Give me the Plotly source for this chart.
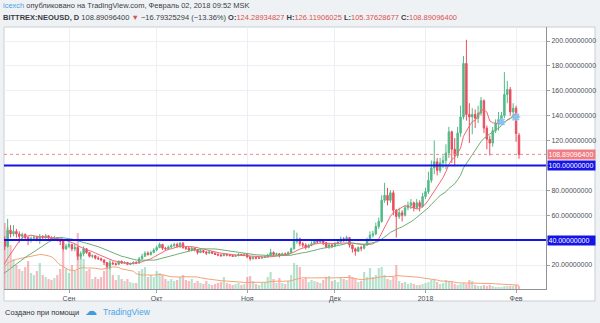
import pandas as pd
import plotly.graph_objects as go

# ---- Daily NEO/USD (Bittrex), 2017-07-20 .. 2018-02-02 ----
close_jul = [6.6, 6.9, 7.3, 7.1, 7.4, 7.5, 7.2, 7.6, 7.9, 7.8, 8.0, 8.7]
high_jul = [6.9, 7.2, 7.6, 7.5, 7.6, 7.8, 7.6, 7.8, 8.2, 8.1, 8.3, 9.0]
low_jul = [6.3, 6.5, 6.8, 6.9, 7.0, 7.2, 7.0, 7.1, 7.5, 7.5, 7.7, 7.9]
vol_jul = [5, 5, 4, 6, 5, 6, 5, 6, 7, 6, 7, 9]

close_aug = [9.2, 10.1, 11.8, 12.9, 14.5, 15.8, 20.9, 29.5, 40.0, 35.0, 48.0, 45.0, 47.0, 45.0, 43.0, 44.5,
             42.0, 40.0, 41.5, 42.0, 41.0, 43.0, 42.0, 43.5, 42.0, 41.0, 42.0, 40.5, 39.0, 33.0, 35.0]
high_aug = [9.6, 10.5, 12.3, 13.5, 15.2, 16.5, 21.8, 31.0, 43.0, 43.0, 57.0, 52.0, 52.0, 49.0, 47.0, 46.0,
            45.5, 43.0, 43.0, 44.0, 43.5, 45.0, 44.0, 45.0, 44.0, 43.0, 43.5, 42.5, 41.0, 40.0, 37.0]
low_aug = [8.6, 9.0, 10.0, 11.6, 12.7, 14.3, 15.6, 20.5, 28.5, 32.0, 34.0, 42.0, 43.0, 42.0, 38.0, 40.0,
           40.0, 36.0, 38.0, 39.5, 39.0, 37.0, 40.0, 41.0, 40.5, 39.5, 40.0, 39.0, 36.0, 31.0, 32.0]
vol_aug = [10, 14, 18, 20, 24, 30, 55, 80, 75, 66, 62, 44, 30, 24, 20, 18,
           22, 28, 16, 14, 18, 26, 14, 12, 10, 9, 11, 14, 20, 38, 20]

close_sep = [36.5, 33.0, 34.0, 27.0, 29.0, 33.0, 30.0, 27.0, 27.5, 25.5, 25.0, 24.0, 22.0, 19.0, 21.5,
             21.0, 20.5, 23.0, 21.5, 22.0, 20.5, 21.0, 22.0, 21.5, 25.0, 27.0, 29.5, 28.5, 30.0, 32.0]
high_sep = [39.0, 37.0, 37.0, 35.0, 31.0, 35.0, 33.5, 30.5, 28.5, 28.0, 27.0, 26.0, 24.5, 22.5, 23.0,
            23.0, 22.0, 23.5, 23.5, 23.0, 22.5, 22.0, 23.0, 23.0, 26.5, 29.0, 31.0, 31.0, 31.5, 33.5]
low_sep = [33.5, 31.0, 31.0, 24.0, 24.5, 27.0, 29.0, 26.0, 25.5, 24.5, 24.0, 23.0, 20.0, 17.5, 16.5,
           20.0, 19.5, 20.5, 21.0, 21.0, 20.0, 20.0, 20.5, 21.0, 21.5, 24.5, 26.5, 27.5, 27.5, 29.5]
vol_sep = [16, 24, 18, 56, 36, 30, 18, 20, 10, 12, 10, 12, 18, 26, 30,
           14, 9, 14, 10, 8, 10, 7, 6, 6, 18, 20, 22, 12, 14, 12]

close_oct = [34.0, 36.5, 33.5, 33.0, 34.5, 35.5, 36.5, 35.0, 37.5, 34.0, 33.5, 32.0, 33.5, 32.0, 30.0, 31.5,
             30.5, 29.5, 30.5, 29.5, 28.5, 28.0, 27.5, 28.5, 28.0, 27.5, 27.0, 27.5, 28.5, 28.0, 28.5]
high_oct = [35.5, 38.0, 37.0, 34.5, 35.5, 37.0, 38.0, 38.0, 38.5, 38.5, 35.0, 34.5, 35.0, 34.0, 32.5, 32.5,
            32.0, 31.0, 31.5, 31.0, 30.0, 29.5, 29.0, 29.5, 29.0, 28.5, 28.5, 28.5, 29.5, 29.0, 29.5]
low_oct = [31.0, 33.5, 32.0, 31.5, 32.0, 33.5, 34.5, 34.0, 33.5, 33.0, 32.0, 31.0, 31.0, 31.0, 28.5, 29.5,
           29.5, 28.0, 29.0, 29.0, 28.0, 27.0, 26.5, 27.0, 27.0, 27.0, 26.5, 26.5, 27.0, 27.5, 27.5]
vol_oct = [18, 16, 14, 10, 8, 10, 8, 9, 12, 14, 9, 8, 10, 6, 8, 6,
           5, 8, 5, 4, 5, 6, 7, 12, 6, 5, 4, 5, 6, 4, 5]

close_nov = [26.5, 25.0, 26.0, 25.5, 25.5, 26.0, 26.5, 28.0, 30.0, 28.5, 29.0, 28.0, 29.0, 28.5, 30.0,
             33.0, 39.0, 41.0, 37.0, 36.0, 34.0, 36.0, 37.0, 39.0, 38.5, 40.0, 38.0, 34.5, 36.0, 35.5]
high_nov = [29.0, 27.0, 27.0, 26.5, 26.5, 27.0, 27.5, 29.0, 33.0, 31.0, 30.0, 29.5, 30.0, 30.0, 31.0,
            34.0, 48.0, 46.0, 42.0, 38.5, 37.5, 37.0, 39.0, 40.5, 41.0, 41.0, 40.5, 38.5, 38.0, 37.5]
low_nov = [25.5, 23.5, 24.5, 24.5, 25.0, 25.0, 25.5, 26.0, 27.5, 27.0, 27.5, 26.0, 27.5, 27.5, 28.0,
           29.5, 32.5, 37.0, 35.0, 34.0, 32.5, 33.5, 35.0, 36.5, 37.0, 37.5, 36.0, 33.5, 33.0, 33.5]
vol_nov = [12, 13, 8, 5, 4, 6, 7, 12, 17, 10, 6, 11, 6, 5, 8,
           14, 26, 24, 22, 10, 11, 7, 9, 8, 7, 6, 9, 12, 13, 8]

close_dec = [37.0, 38.5, 41.0, 40.0, 42.0, 36.0, 33.0, 31.0, 34.0, 33.5, 36.0, 40.0, 44.0, 45.0, 51.0, 55.0,
             72.0, 76.0, 72.0, 78.0, 64.0, 59.0, 62.0, 60.0, 66.0, 68.0, 70.0, 66.0, 70.0, 67.0, 75.0]
high_dec = [38.5, 40.0, 43.0, 42.5, 43.5, 42.5, 36.5, 34.0, 35.0, 35.5, 37.0, 42.0, 47.0, 47.5, 54.0, 58.0,
            76.0, 86.0, 82.0, 80.0, 80.0, 65.0, 66.0, 64.0, 68.0, 71.0, 73.0, 71.0, 73.0, 72.0, 78.0]
low_dec = [34.5, 36.5, 38.0, 38.5, 39.0, 34.0, 30.0, 27.5, 30.5, 31.0, 32.5, 35.5, 39.0, 42.0, 44.0, 49.0,
           54.0, 70.0, 68.0, 70.0, 60.0, 42.0, 57.0, 55.0, 59.0, 64.0, 65.0, 63.0, 65.0, 63.0, 66.0]
vol_dec = [9, 7, 11, 10, 9, 14, 12, 10, 7, 8, 17, 12, 21, 12, 14, 21,
           22, 14, 10, 9, 12, 24, 8, 6, 7, 5, 6, 5, 4, 4, 5]

close_jan = [79, 88, 98, 103, 96, 102, 104, 110, 127, 113, 108, 126, 139, 182, 141, 139,
             141, 138, 142, 152, 130, 121, 118, 128, 134, 137, 140, 157, 161, 143, 146]
high_jan = [82, 95, 104, 120, 106, 106, 108, 117, 131, 128, 122, 131, 148, 188, 201, 150,
            146, 145, 148, 155, 153, 132, 124, 131, 137, 143, 143, 175, 168, 163, 150]
low_jan = [73, 77, 86, 93, 92, 94, 98, 97, 106, 102, 100, 106, 123, 137, 136, 118,
           125, 130, 134, 140, 126, 113, 108, 115, 126, 128, 134, 138, 150, 140, 136]
vol_jan = [6, 7, 9, 9, 7, 5, 6, 9, 8, 7, 5, 4, 5, 6, 5, 9,
           8, 4, 3, 3, 4, 3, 4, 3, 2, 2, 2, 3, 3, 3, 3]

close_feb = [125.68421694, 108.89096400]
high_feb = [148.0, 126.11906025]
low_feb = [119.0, 105.37628677]
vol_feb = [4, 3]

FIRST_OPEN = 6.4
LAST_OPEN = 124.28934827

close = close_jul + close_aug + close_sep + close_oct + close_nov + close_dec + close_jan + close_feb
high = high_jul + high_aug + high_sep + high_oct + high_nov + high_dec + high_jan + high_feb
low = low_jul + low_aug + low_sep + low_oct + low_nov + low_dec + low_jan + low_feb
volume = vol_jul + vol_aug + vol_sep + vol_oct + vol_nov + vol_dec + vol_jan + vol_feb
assert len(close) == len(high) == len(low) == len(volume)

# each session opens at the previous close; the last one has its own open
opens = [FIRST_OPEN] + close[:-1]
opens[-1] = LAST_OPEN

dates = pd.date_range("2017-07-20", periods=len(close), freq="D")
assert dates[-1] == pd.Timestamp("2018-02-02")

ma_fast = pd.Series(close).rolling(9).mean()
ma_slow = pd.Series(close).rolling(21).mean()
vol_ma = pd.Series(volume).rolling(20).mean()

# horizontal levels
levels = [100.0, 40.0]
level_color = "#1414e6"

# idea markers
marker_dates = ["2018-01-27", "2018-02-01"]
marker_prices = [135.0, 139.0]

month_ticks = ["2017-09-01", "2017-10-01", "2017-11-01", "2017-12-01", "2018-01-01", "2018-02-01"]
month_labels = ["Сен", "Окт", "Ноя", "Дек", "2018", "Фев"]
price_ticks = [20, 40, 60, 80, 100, 120, 140, 160, 180, 200]

UP = "#53b987"
DOWN = "#eb4d5c"
FONT = "Liberation Sans, Arial, sans-serif"
TEXT = "#4d5058"

vol_colors = ["rgba(83,185,135,0.42)" if c >= o else "rgba(235,77,92,0.40)"
              for o, c in zip(opens, close)]

fig = go.Figure()

fig.add_trace(go.Bar(x=dates, y=volume, yaxis="y", marker=dict(color=vol_colors, line=dict(width=0)),
                     showlegend=False, hoverinfo="skip"))
fig.add_trace(go.Scatter(x=dates, y=vol_ma, yaxis="y", mode="lines",
                         line=dict(color="#f2a474", width=1), showlegend=False, hoverinfo="skip"))

fig.add_trace(go.Candlestick(
    x=dates, open=opens, high=high, low=low, close=close, yaxis="y2",
    increasing=dict(line=dict(color=UP, width=1), fillcolor=UP),
    decreasing=dict(line=dict(color=DOWN, width=1), fillcolor=DOWN),
    whiskerwidth=0, showlegend=False))

fig.add_trace(go.Scatter(x=dates, y=ma_fast, yaxis="y2", mode="lines",
                         line=dict(color="#ee6a72", width=1), showlegend=False))
fig.add_trace(go.Scatter(x=dates, y=ma_slow, yaxis="y2", mode="lines",
                         line=dict(color="#6fae72", width=1), showlegend=False))
fig.add_trace(go.Scatter(x=marker_dates, y=marker_prices, yaxis="y2", mode="markers",
                         marker=dict(symbol="asterisk-open", size=7, color="#86c2f2",
                                     line=dict(color="#86c2f2", width=1.5)),
                         showlegend=False))

W, H = 600, 323
ML, MR, MT, MB = 4, 54, 27, 34
PW, PH = W - ML - MR, H - MT - MB


def px_x(px):
    return (px - ML) / PW


def px_y(py):
    return (H - MB - py) / PH


shapes = [
    dict(type="rect", xref="paper", yref="paper", x0=0, x1=px_x(595), y0=px_y(301), y1=1,
         fillcolor="white", line=dict(color="#c9ced4", width=1), layer="below"),
]
for lv in levels:
    shapes.append(dict(type="line", xref="paper", yref="y2", x0=0, x1=1, y0=lv, y1=lv,
                       line=dict(color=level_color, width=2)))
shapes.append(dict(type="line", xref="paper", yref="y2", x0=0, x1=1, y0=close[-1], y1=close[-1],
                   line=dict(color="#f08a8a", width=1, dash="dot")))

last = close[-1]
chg = close[-1] - close[-2]
pct = chg / close[-2] * 100
RED = "#d9534f"

line1 = ("<span style='color:#4f9fe0'>icexch</span> опубликовано на TradingView.com, "
         "Февраль 02, 2018 09:52 MSK")
line2 = (f"<b>BITTREX:NEOUSD, D</b> {last:.8f} <span style='color:{RED}'>▼</span> "
         f"−{abs(chg):.8f} (−{abs(pct):.2f}%) "
         f"<b>O:</b><span style='color:{RED}'>{opens[-1]:.8f}</span> "
         f"<b>H:</b><span style='color:{RED}'>{high[-1]:.8f}</span> "
         f"<b>L:</b><span style='color:{RED}'>{low[-1]:.8f}</span> "
         f"<b>C:</b><span style='color:{RED}'>{close[-1]:.8f}</span>")

annotations = [
    dict(text=line1, xref="paper", yref="paper", x=px_x(1), y=px_y(6), xanchor="left", yanchor="middle",
         showarrow=False, font=dict(family=FONT, size=7.5, color="#3a3d44")),
    dict(text=line2, xref="paper", yref="paper", x=px_x(1), y=px_y(17), xanchor="left", yanchor="middle",
         showarrow=False, font=dict(family=FONT, size=7.5, color="#3a3d44")),
    dict(text="Создано при помощи", xref="paper", yref="paper", x=px_x(3), y=px_y(312),
         xanchor="left", yanchor="middle", showarrow=False, font=dict(family=FONT, size=7.5, color="#2f3238")),
    dict(text="☁", xref="paper", yref="paper", x=px_x(91), y=px_y(311),
         xanchor="center", yanchor="middle", showarrow=False,
         font=dict(family="DejaVu Sans", size=12, color="#3d9be0")),
    dict(text="TradingView", xref="paper", yref="paper", x=px_x(101), y=px_y(312),
         xanchor="left", yanchor="middle", showarrow=False, font=dict(family=FONT, size=8.5, color="#4aa3e6")),
]

# price tags on the axis; the level tags replace the plain tick labels there
axis_tags = [(close[-1], "#f07c84"), (levels[0], level_color), (levels[1], level_color)]
for val, col in axis_tags:
    annotations.append(dict(text=f"{val:.8f}", xref="paper", yref="y2", x=px_x(547), y=val,
                            xanchor="left", yanchor="middle", showarrow=False, bgcolor=col,
                            width=46, height=8, align="left", borderpad=0.5,
                            font=dict(family=FONT, size=7, color="white")))
tick_text = ["" if v in levels else f"{v:.8f}" for v in price_ticks]

fig.update_layout(
    width=W, height=H,
    margin=dict(l=ML, r=MR, t=MT, b=MB),
    paper_bgcolor="#eff2f5",
    plot_bgcolor="white",
    font=dict(family=FONT, size=7, color=TEXT),
    showlegend=False,
    bargap=0.25,
    xaxis=dict(type="date", range=["2017-08-09 18:07", "2018-02-11 05:45"],
               tickvals=month_ticks, ticktext=month_labels,
               showgrid=True, gridcolor="#eceff3", gridwidth=1,
               ticks="outside", ticklen=3, tickcolor="#9da2a8",
               showline=True, linecolor="#8e939a", linewidth=1,
               tickfont=dict(family=FONT, size=7, color=TEXT),
               rangeslider=dict(visible=False), fixedrange=True),
    yaxis=dict(range=[0, 262], visible=False, showgrid=False, fixedrange=True),
    yaxis2=dict(overlaying="y", side="right", range=[0.71, 211.25],
                tickvals=price_ticks, ticktext=tick_text,
                showgrid=True, gridcolor="#eceff3", gridwidth=1, zeroline=False,
                ticks="outside", ticklen=3, tickcolor="#9da2a8",
                showline=True, linecolor="#8e939a", linewidth=1,
                tickfont=dict(family=FONT, size=7, color=TEXT), fixedrange=True),
    shapes=shapes,
    annotations=annotations,
)

fig.write_html("out.html")
